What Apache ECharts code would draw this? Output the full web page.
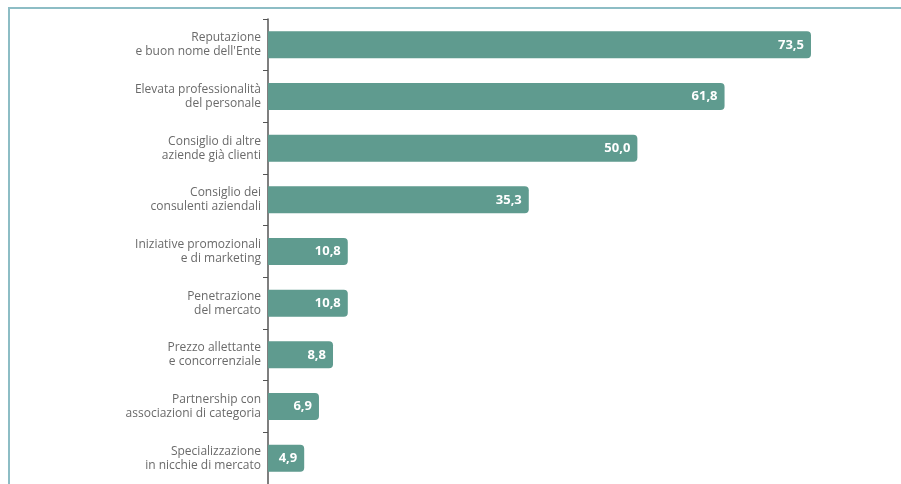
<!DOCTYPE html>
<html>
<head>
<meta charset="utf-8">
<script src="https://cdn.jsdelivr.net/npm/echarts@6/dist/echarts.min.js"></script>
<style>
  html, body { margin: 0; padding: 0; background: #ffffff; }
  #frame { position: absolute; left: 8px; top: 7px; right: -2px; bottom: -2px;
           border-left: 2px solid #8dbdc5; border-top: 2px solid #8dbdc5; }
  #chart { position: absolute; left: 0; top: 0; width: 901px; height: 484px; }
</style>
</head>
<body>
<div id="frame"></div>
<div id="chart"></div>
<script>
// Motivi di scelta (% di risposte), dall'alto verso il basso
const categories = [
  "Reputazione\ne buon nome dell'Ente",
  "Elevata professionalità\ndel personale",
  "Consiglio di altre\naziende già clienti",
  "Consiglio dei\nconsulenti aziendali",
  "Iniziative promozionali\ne di marketing",
  "Penetrazione\ndel mercato",
  "Prezzo allettante\ne concorrenziale",
  "Partnership con\nassociazioni di categoria",
  "Specializzazione\nin nicchie di mercato"
];
const values = [73.5, 61.8, 50.0, 35.3, 10.8, 10.8, 8.8, 6.9, 4.9];

const chart = echarts.init(document.getElementById('chart'), null, { renderer: 'canvas' });
chart.setOption({
  animation: false,
  grid: { left: 268, top: 19, width: 591, bottom: 0 },
  xAxis: {
    type: 'value', min: 0, max: 80,
    show: false
  },
  yAxis: {
    type: 'category',
    inverse: true,
    data: categories,
    axisLine: { show: true, lineStyle: { color: '#555555', width: 1.5 } },
    axisTick: { show: true, length: 5, lineStyle: { color: '#555555' } },
    axisLabel: {
      color: '#6a6a6a', fontSize: 12, lineHeight: 14,
      fontFamily: 'Open Sans', align: 'right', margin: 7
    }
  },
  series: [{
    type: 'bar',
    data: values,
    barWidth: 27,
    itemStyle: { color: '#5f9b8f', borderRadius: [0, 4, 4, 0] },
    label: {
      show: true, position: 'insideRight', offset: [-2, 0],
      color: '#ffffff', fontWeight: 'bold', fontSize: 13,
      fontFamily: 'Open Sans',
      formatter: p => p.value.toFixed(1).replace('.', ',')
    }
  }]
});
</script>
</body>
</html>
